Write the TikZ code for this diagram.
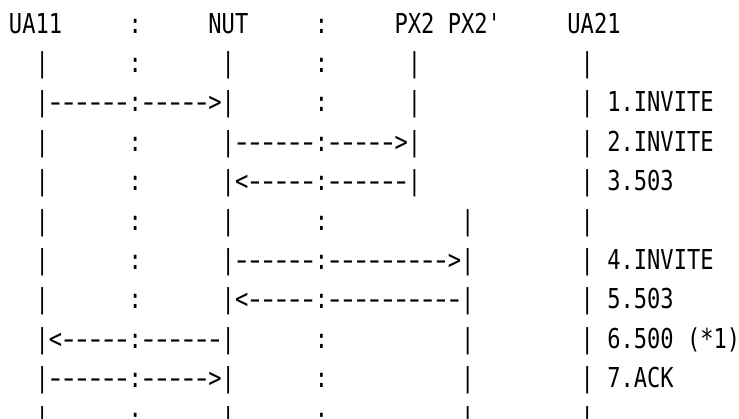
\documentclass[tikz,border=0pt]{standalone}
\usepackage{fontspec}
\newfontfamily\asciifont[FakeStretch=0.806, Ligatures=TeXOff]{DejaVu Sans Mono}
\usetikzlibrary{positioning}
\newcommand\gap[1]{\hskip#1\fontcharwd\font`\-\relax}
\newcommand\dashes[1]{\foreach \i in {1,...,#1}{\makebox[\fontcharwd\font`\-][c]{\scalebox{1.45}[1]{-}}}}
\tikzset{
    textrow/.style={font={\asciifont\fontsize{27.4}{39.4}\selectfont}, inner sep=0pt, text=black},
    nextrow/.style={below=39.4pt of #1.base west, anchor=base west}
}

\begin{document}
\begin{tikzpicture}
        \useasboundingbox (0,0) rectangle (739pt,-418pt);
        \node [textrow, anchor=base west] (head) at (8.8pt,-33pt) {UA11\gap{5}:\gap{5}NUT\gap{5}:\gap{5}PX2\gap{1}PX2'\gap{5}UA21};
        \node [textrow, nextrow=head] (row1) {\gap{2}|\gap{6}:\gap{6}|\gap{6}:\gap{6}|\gap{12}|};
        \node [textrow, nextrow=row1] (row2) {\gap{2}|\dashes{6}:\dashes{5}>|\gap{6}:\gap{6}|\gap{12}|\gap{1}1.INVITE};
        \node [textrow, nextrow=row2] (row3) {\gap{2}|\gap{6}:\gap{6}|\dashes{6}:\dashes{5}>|\gap{12}|\gap{1}2.INVITE};
        \node [textrow, nextrow=row3] (row4) {\gap{2}|\gap{6}:\gap{6}|<\dashes{5}:\dashes{6}|\gap{12}|\gap{1}3.503};
        \node [textrow, nextrow=row4] (row5) {\gap{2}|\gap{6}:\gap{6}|\gap{6}:\gap{10}|\gap{8}|};
        \node [textrow, nextrow=row5] (row6) {\gap{2}|\gap{6}:\gap{6}|\dashes{6}:\dashes{9}>|\gap{8}|\gap{1}4.INVITE};
        \node [textrow, nextrow=row6] (row7) {\gap{2}|\gap{6}:\gap{6}|<\dashes{5}:\dashes{10}|\gap{8}|\gap{1}5.503};
        \node [textrow, nextrow=row7] (row8) {\gap{2}|<\dashes{5}:\dashes{6}|\gap{6}:\gap{10}|\gap{8}|\gap{1}6.500\gap{1}(*1)};
        \node [textrow, nextrow=row8] (row9) {\gap{2}|\dashes{6}:\dashes{5}>|\gap{6}:\gap{10}|\gap{8}|\gap{1}7.ACK};
        \node [textrow, nextrow=row9] (row10) {\gap{2}|\gap{6}:\gap{6}|\gap{6}:\gap{10}|\gap{8}|};
    \end{tikzpicture}
\end{document}
